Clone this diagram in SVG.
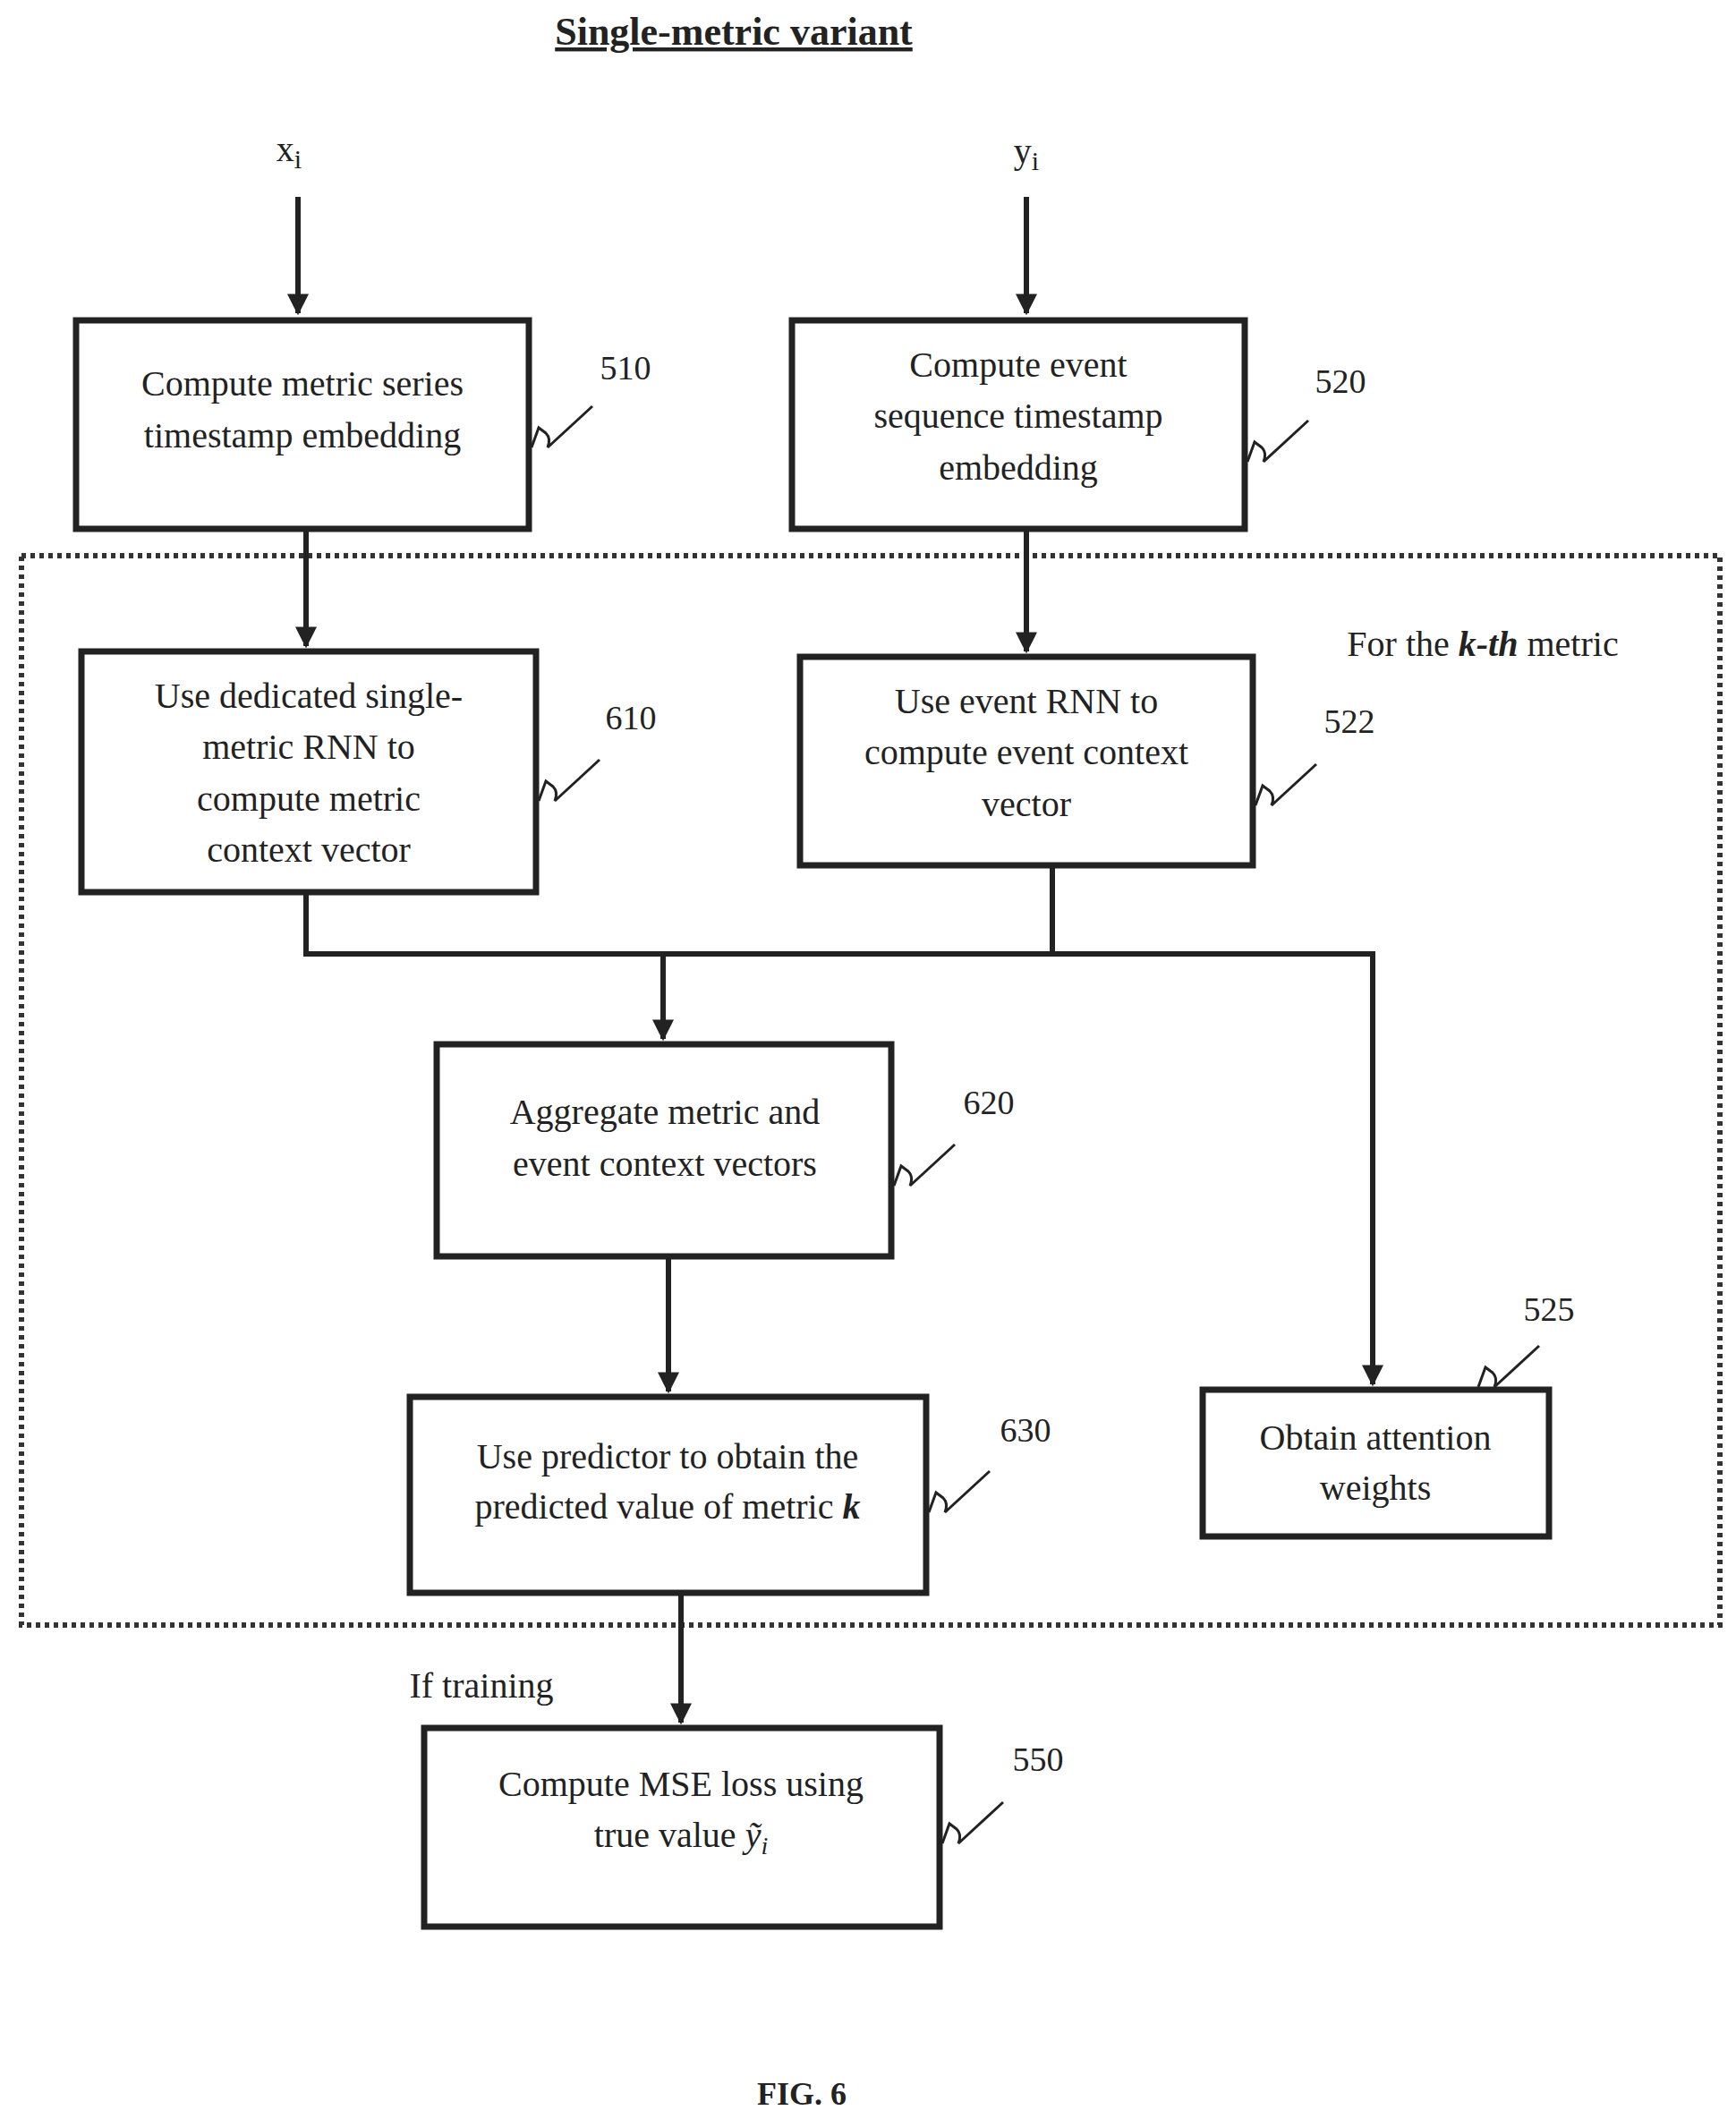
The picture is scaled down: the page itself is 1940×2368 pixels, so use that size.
<svg xmlns="http://www.w3.org/2000/svg" width="1940" height="2368" viewBox="0 0 1940 2368">
<defs>
<style>
.b{fill:none;stroke:#222;stroke-width:7}
.t{font-family:"Liberation Serif",serif;font-size:40px;fill:#222;text-anchor:middle}
.n{font-family:"Liberation Serif",serif;font-size:38px;fill:#222;text-anchor:middle}
.c{fill:none;stroke:#222;stroke-width:6}
.s{fill:none;stroke:#222;stroke-width:3}
</style>
<marker id="a" viewBox="0 0 10 10" refX="9" refY="5" markerWidth="4" markerHeight="4" orient="auto" markerUnits="strokeWidth"><path d="M0,0 L10,5 L0,10 z" fill="#222"/></marker>
</defs>
<rect width="1940" height="2368" fill="#fff"/>
<text x="820" y="50" font-family="Liberation Serif,serif" font-size="44" font-weight="bold" text-anchor="middle" fill="#222" text-decoration="underline">Single-metric variant</text>
<text x="323" y="180" class="t" font-size="46">x<tspan font-size="30" dy="8">i</tspan></text>
<text x="1147" y="182" class="t" font-size="46">y<tspan font-size="30" dy="8">i</tspan></text>
<rect x="24" y="621" width="1898" height="1195" fill="none" stroke="#333" stroke-width="6" stroke-dasharray="5,5"/>
<text x="1657" y="733" class="t">For the <tspan font-weight="bold" font-style="italic">k-th</tspan> metric</text>
<text x="538" y="1897" class="t">If training</text>
<text x="896" y="2352" font-family="Liberation Serif,serif" font-size="36" font-weight="bold" text-anchor="middle" fill="#222">FIG. 6</text>
<g id="connectors">
<path class="c" d="M333,220 V350" marker-end="url(#a)"/>
<path class="c" d="M1147,220 V350" marker-end="url(#a)"/>
<path class="c" d="M342,591 V722" marker-end="url(#a)"/>
<path class="c" d="M1147,591 V728" marker-end="url(#a)"/>
<path class="c" d="M342,997 V1066 H1176"/>
<path class="c" d="M1176,967 V1066 H1534 V1547" marker-end="url(#a)"/>
<path class="c" d="M741,1066 V1161" marker-end="url(#a)"/>
<path class="c" d="M747,1404 V1555" marker-end="url(#a)"/>
<path class="c" d="M761,1780 V1925" marker-end="url(#a)"/>
</g>
<g id="n510"><rect class="b" x="85" y="358" width="506" height="233"/>
<text class="t" x="338" y="442">Compute metric series</text><text class="t" x="338" y="500">timestamp embedding</text>
<path class="s" d="M594,500 l8,-22 l8,6 q6,6 2,16 l50,-46"/><text class="n" x="699" y="424">510</text></g>
<g id="n520"><rect class="b" x="885" y="358" width="506" height="233"/>
<text class="t" x="1138" y="421">Compute event</text><text class="t" x="1138" y="478">sequence timestamp</text><text class="t" x="1138" y="536">embedding</text>
<path class="s" d="M1394,516 l8,-22 l8,6 q6,6 2,16 l50,-46"/><text class="n" x="1498" y="439">520</text></g>
<g id="n610"><rect class="b" x="91" y="728" width="508" height="269"/>
<text class="t" x="345" y="791">Use dedicated single-</text><text class="t" x="345" y="848">metric RNN to</text><text class="t" x="345" y="906">compute metric</text><text class="t" x="345" y="963">context vector</text>
<path class="s" d="M602,895 l8,-22 l8,6 q6,6 2,16 l50,-46"/><text class="n" x="705" y="815">610</text></g>
<g id="n522"><rect class="b" x="894" y="734" width="506" height="233"/>
<text class="t" x="1147" y="797">Use event RNN to</text><text class="t" x="1147" y="854">compute event context</text><text class="t" x="1147" y="912">vector</text>
<path class="s" d="M1403,900 l8,-22 l8,6 q6,6 2,16 l50,-46"/><text class="n" x="1508" y="819">522</text></g>
<g id="n620"><rect class="b" x="488" y="1167" width="508" height="237"/>
<text class="t" x="743" y="1256">Aggregate metric and</text><text class="t" x="743" y="1314">event context vectors</text>
<path class="s" d="M999,1325 l8,-22 l8,6 q6,6 2,16 l50,-46"/><text class="n" x="1105" y="1245">620</text></g>
<g id="n630"><rect class="b" x="458" y="1561" width="577" height="219"/>
<text class="t" x="746" y="1641">Use predictor to obtain the</text><text class="t" x="746" y="1697">predicted value of metric <tspan font-weight="bold" font-style="italic">k</tspan></text>
<path class="s" d="M1038,1690 l8,-22 l8,6 q6,6 2,16 l50,-46"/><text class="n" x="1146" y="1611">630</text></g>
<g id="n525"><rect class="b" x="1344" y="1553" width="387" height="164"/>
<text class="t" x="1537" y="1620">Obtain attention</text><text class="t" x="1537" y="1676">weights</text>
<path class="s" d="M1652,1550 l8,-22 l8,6 q6,6 2,16 l50,-46"/><text class="n" x="1731" y="1476">525</text></g>
<g id="n550"><rect class="b" x="474" y="1931" width="576" height="222"/>
<text class="t" x="761" y="2007">Compute MSE loss using</text><text class="t" x="761" y="2064">true value <tspan font-style="italic">ỹ</tspan><tspan font-style="italic" font-size="28" dy="8">i</tspan></text>
<path class="s" d="M1053,2060 l8,-22 l8,6 q6,6 2,16 l50,-46"/><text class="n" x="1160" y="1979">550</text></g>
</svg>
